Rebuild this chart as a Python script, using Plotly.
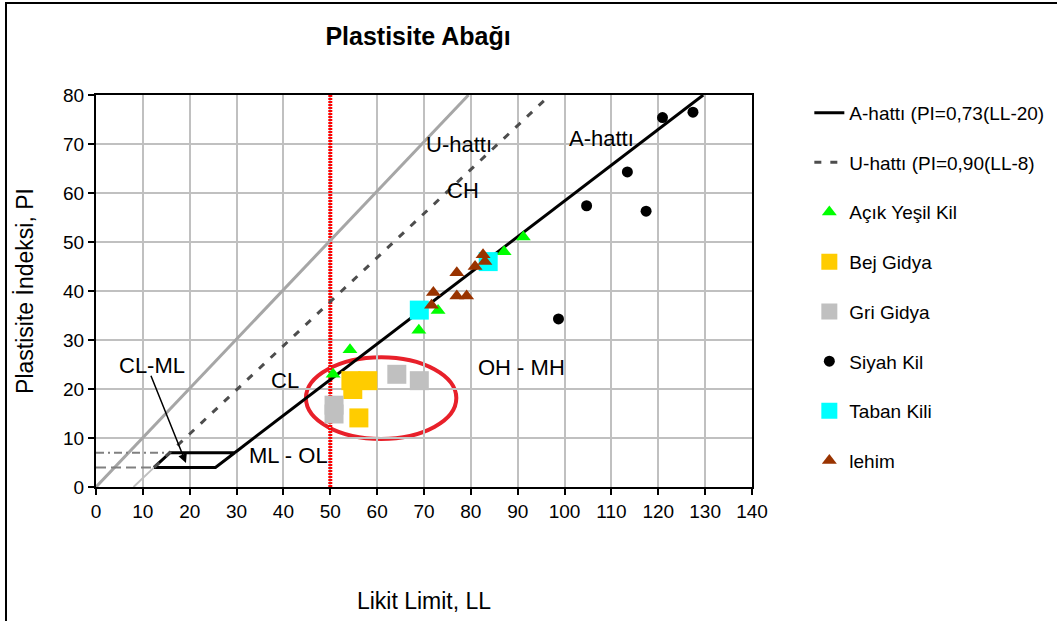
import plotly.graph_objects as go

# --- Reference lines of the plasticity chart ---
a_line_ll = [29.6, 129.6]          # A-hattı: PI = 0.73 (LL - 20), from the CL-ML zone up to PI = 80
a_line_pi = [7.0, 80.0]
u_line_ll = [12.4, 96.9]           # U-hattı: PI = 0.90 (LL - 8)
u_line_pi = [4.0, 80.0]
u_foot_ll = [8.0, 12.4]            # lower foot of the U-line
u_foot_pi = [0.0, 4.0]
grey_line_ll = [0.0, 79.5]         # light grey guide line
grey_line_pi = [0.0, 80.0]
clml_ll = [12.4, 25.5, 29.6, 15.8, 12.4]   # CL-ML zone (PI 4 .. 7)
clml_pi = [4.0, 4.0, 7.0, 7.0, 4.0]
pi7_ll = [0.0, 15.8]
pi7_pi = [7.0, 7.0]
pi4_ll = [0.0, 12.4]
pi4_pi = [4.0, 4.0]
ll50_ll = [50.0, 50.0]
ll50_pi = [0.0, 80.0]

# --- Samples (LL, PI) ---
acik_yesil_ll = [91.2, 87.1, 73.0, 68.9, 54.2, 50.6]
acik_yesil_pi = [51.0, 48.0, 36.0, 32.0, 28.0, 23.0]
bej_gidya_ll = [54.4, 58.0, 54.8, 56.1]
bej_gidya_pi = [21.7, 21.7, 19.9, 14.1]
gri_gidya_ll = [64.2, 69.0, 50.8, 50.8]
gri_gidya_pi = [23.0, 21.7, 16.7, 14.9]
siyah_kil_ll = [120.9, 127.4, 113.4, 104.7, 117.4, 98.7]
siyah_kil_pi = [75.4, 76.5, 64.3, 57.4, 56.3, 34.3]
taban_kili_ll = [69.0, 83.7]
taban_kili_pi = [36.1, 46.0]
lehim_ll = [83.0, 82.6, 80.9, 77.0, 72.0, 71.6, 77.0, 79.1]
lehim_pi = [46.0, 47.4, 45.0, 43.7, 39.7, 37.1, 39.0, 39.0]

# --- Zone labels ---
zone_text = ["U-hattı", "A-hattı", "CH", "CL", "OH - MH", "ML - OL", "CL-ML"]
zone_ll = [77.5, 107.8, 78.3, 40.4, 90.8, 41.1, 12.0]
zone_pi = [69.8, 71.1, 60.6, 21.8, 24.3, 6.4, 24.7]

FONT = "Liberation Sans, Arial, sans-serif"

fig = go.Figure()

# helper lines (not in legend)
fig.add_trace(go.Scatter(x=ll50_ll, y=ll50_pi, mode="lines", showlegend=False, hoverinfo="skip",
                         line=dict(color="#ff0000", width=4, dash="2px,1px")))
fig.add_trace(go.Scatter(x=grey_line_ll, y=grey_line_pi, mode="lines", showlegend=False, hoverinfo="skip",
                         line=dict(color="#a6a6a6", width=3)))
fig.add_trace(go.Scatter(x=pi7_ll, y=pi7_pi, mode="lines", showlegend=False, hoverinfo="skip",
                         line=dict(color="#808080", width=2, dash="8px,4px,2px,4px")))
fig.add_trace(go.Scatter(x=pi4_ll, y=pi4_pi, mode="lines", showlegend=False, hoverinfo="skip",
                         line=dict(color="#808080", width=2, dash="10px,5px")))
fig.add_trace(go.Scatter(x=u_foot_ll, y=u_foot_pi, mode="lines", showlegend=False, hoverinfo="skip",
                         line=dict(color="#bfbfbf", width=2)))
fig.add_trace(go.Scatter(x=clml_ll, y=clml_pi, mode="lines", showlegend=False, hoverinfo="skip",
                         line=dict(color="black", width=3)))

# legend lines
fig.add_trace(go.Scatter(x=a_line_ll, y=a_line_pi, mode="lines", name="A-hattı (PI=0,73(LL-20)",
                         legendgroup="a", line=dict(color="black", width=3)))
fig.add_trace(go.Scatter(x=u_line_ll, y=u_line_pi, mode="lines", name="U-hattı (PI=0,90(LL-8)",
                         legendgroup="u", line=dict(color="#4d4d4d", width=3, dash="7px,9px")))

# samples
fig.add_trace(go.Scatter(x=acik_yesil_ll, y=acik_yesil_pi, mode="markers", name="Açık Yeşil Kil",
                         legendgroup="g", marker=dict(symbol="triangle-up", size=13, color="#00ff00")))
fig.add_trace(go.Scatter(x=bej_gidya_ll, y=bej_gidya_pi, mode="markers", name="Bej Gidya",
                         legendgroup="y", marker=dict(symbol="square", size=19, color="#ffcc00")))
fig.add_trace(go.Scatter(x=gri_gidya_ll, y=gri_gidya_pi, mode="markers", name="Gri Gidya",
                         legendgroup="gr", marker=dict(symbol="square", size=19, color="#c0c0c0")))
fig.add_trace(go.Scatter(x=siyah_kil_ll, y=siyah_kil_pi, mode="markers", name="Siyah Kil",
                         legendgroup="s", marker=dict(symbol="circle", size=11, color="black")))
fig.add_trace(go.Scatter(x=taban_kili_ll, y=taban_kili_pi, mode="markers", name="Taban Kili",
                         legendgroup="t", marker=dict(symbol="square", size=19, color="#00ffff")))
fig.add_trace(go.Scatter(x=lehim_ll, y=lehim_pi, mode="markers", name="lehim",
                         legendgroup="l", marker=dict(symbol="triangle-up", size=13, color="#993300")))

annotations = []
for t, x, y in zip(zone_text, zone_ll, zone_pi):
    annotations.append(dict(x=x, y=y, xref="x", yref="y", text=t, showarrow=False,
                            font=dict(family=FONT, size=22, color="black")))
# arrow from the CL-ML label into its zone
annotations.append(dict(x=19.2, y=4.9, ax=11.6, ay=23.0, xref="x", yref="y", axref="x", ayref="y",
                        text="", showarrow=True, arrowhead=2, arrowsize=1.2, arrowwidth=1.5,
                        arrowcolor="black", standoff=0, startstandoff=0))

shapes = [
    # circled group of samples
    dict(type="circle", xref="x", yref="y", x0=44.8, x1=76.9, y0=9.8, y1=26.5,
         line=dict(color="#e8202a", width=4), layer="below"),
    # outer frame of the chart
    dict(type="rect", xref="paper", yref="paper", x0=-0.1372, x1=1.47, y0=-0.36, y1=1.2347,
         line=dict(color="black", width=2)),
]

fig.update_layout(
    width=1057, height=621,
    margin=dict(l=96, r=305, t=95, b=134, autoexpand=False),
    paper_bgcolor="white", plot_bgcolor="white",
    font=dict(family=FONT, color="black"),
    title=dict(text="<b>Plastisite Abağı</b>", x=0.3955, xref="container", xanchor="center",
               y=0.942, yref="container", yanchor="middle",
               font=dict(family=FONT, size=25, color="black")),
    xaxis=dict(range=[0, 140], dtick=10, tick0=0, showline=True, linecolor="black", linewidth=2,
               mirror=True, ticks="outside", ticklen=6, tickwidth=2, tickcolor="black",
               showgrid=True, gridcolor="#c0c0c0", gridwidth=2, zeroline=False,
               tickfont=dict(family=FONT, size=19, color="black"),
               title=dict(text="Likit Limit, LL", font=dict(family=FONT, size=23, color="black"),
                          standoff=72)),
    yaxis=dict(range=[0, 80], dtick=10, tick0=0, showline=True, linecolor="black", linewidth=2,
               mirror=True, ticks="outside", ticklen=6, tickwidth=2, tickcolor="black",
               showgrid=True, gridcolor="#c0c0c0", gridwidth=2, zeroline=False,
               tickfont=dict(family=FONT, size=19, color="black"),
               title=dict(text="Plastisite İndeksi, PI", font=dict(family=FONT, size=23, color="black"),
                          standoff=23)),
    legend=dict(x=1.0874, xanchor="left", y=1.003, yanchor="top", tracegroupgap=22, maxheight=600,
                font=dict(family=FONT, size=19, color="black"), bgcolor="rgba(0,0,0,0)",
                itemclick=False, itemdoubleclick=False),
    annotations=annotations,
    shapes=shapes,
)

fig.write_html("out.html")
